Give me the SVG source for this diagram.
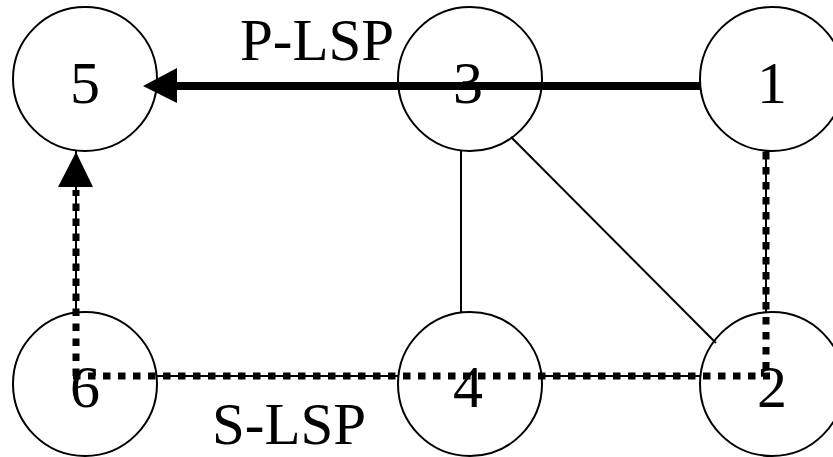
<svg xmlns="http://www.w3.org/2000/svg" width="833" height="457" viewBox="0 0 833 457">
<style>
.node circle{fill:#fff;stroke:#000;stroke-width:2}
.node text{font-family:"Liberation Serif","Times New Roman",serif;font-size:60px;text-anchor:middle;fill:#000}
.lbl{font-family:"Liberation Serif","Times New Roman",serif;fill:#000}
.thin{stroke:#000;stroke-width:2;fill:none}
.thick{stroke:#000;stroke-width:8;fill:none}
.dot{stroke:#000;stroke-width:7;stroke-dasharray:7.5 7.5;fill:none}
</style>
<rect width="833" height="457" fill="#fff"/>
<g id="node-5" class="node"><circle cx="85" cy="79" r="72"/><text x="85" y="103">5</text></g>
<g id="node-3" class="node"><circle cx="470" cy="79" r="72"/><text x="468" y="103">3</text></g>
<g id="node-1" class="node"><circle cx="772" cy="79" r="72"/><text x="772" y="103">1</text></g>
<g id="node-6" class="node"><circle cx="85" cy="384" r="72"/><text x="85" y="407">6</text></g>
<g id="node-4" class="node"><circle cx="470" cy="384" r="72"/><text x="468" y="407">4</text></g>
<g id="node-2" class="node"><circle cx="772" cy="384" r="72"/><text x="772" y="407">2</text></g>
<g id="connectors">
<line class="thin" x1="76" y1="150" x2="76" y2="313"/>
<line class="thin" x1="156" y1="376" x2="399" y2="376"/>
<line class="thin" x1="541" y1="376" x2="701" y2="376"/>
<line class="thin" x1="766" y1="151" x2="766" y2="312"/>
<line class="thin" x1="461" y1="150" x2="461" y2="313"/>
<line class="thin" x1="511" y1="137" x2="716" y2="343"/>
<line class="thick" x1="701" y1="86" x2="175" y2="86"/>
<polygon points="143,86 177,68 177,103" fill="#000"/>
<line class="dot" x1="73" y1="376" x2="770" y2="376"/>
<line class="dot" x1="766" y1="152" x2="766" y2="376"/>
<line class="dot" x1="76" y1="376" x2="76" y2="190"/>
<polygon points="76,152 58,187 93,187" fill="#000"/>
</g>
<text class="lbl" x="240" y="60" font-size="59">P-LSP</text>
<text class="lbl" x="212" y="444" font-size="59">S-LSP</text>
</svg>
